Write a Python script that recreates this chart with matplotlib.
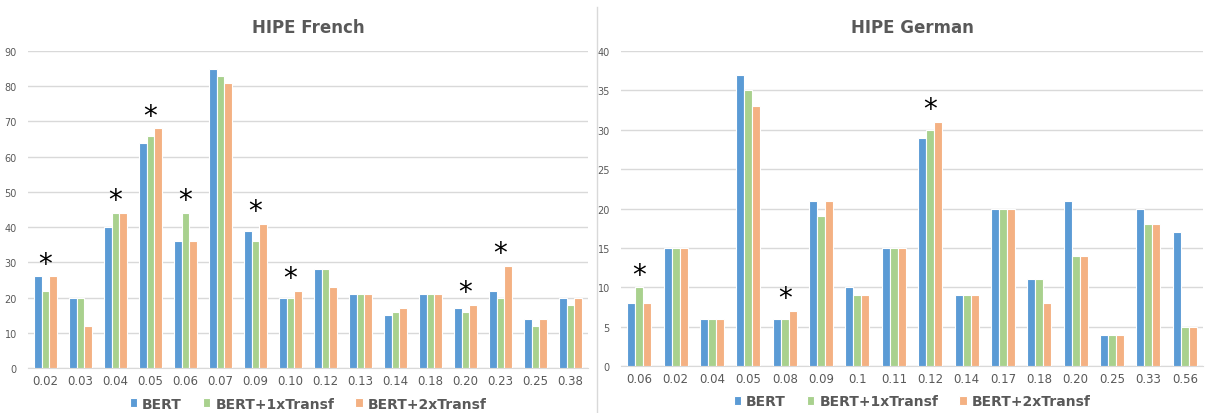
import numpy as np
import matplotlib
matplotlib.use('Agg')
import matplotlib.pyplot as plt

series_names = ['BERT', 'BERT+1xTransf', 'BERT+2xTransf']
colors = ['#5B9BD5', '#A9D18E', '#F4B183']

fr_labels = ['0.02', '0.03', '0.04', '0.05', '0.06', '0.07', '0.09', '0.10',
             '0.12', '0.13', '0.14', '0.18', '0.20', '0.23', '0.25', '0.38']
fr_bert = [26, 20, 40, 64, 36, 85, 39, 20, 28, 21, 15, 21, 17, 22, 14, 20]
fr_1x = [22, 20, 44, 66, 44, 83, 36, 20, 28, 21, 16, 21, 16, 20, 12, 18]
fr_2x = [26, 12, 44, 68, 36, 81, 41, 22, 23, 21, 17, 21, 18, 29, 14, 20]
fr_star = ['0.02', '0.04', '0.05', '0.06', '0.09', '0.10', '0.20', '0.23']

de_labels = ['0.06', '0.02', '0.04', '0.05', '0.08', '0.09', '0.1', '0.11',
             '0.12', '0.14', '0.17', '0.18', '0.20', '0.25', '0.33', '0.56']
de_bert = [8, 15, 6, 37, 6, 21, 10, 15, 29, 9, 20, 11, 21, 4, 20, 17]
de_1x = [10, 15, 6, 35, 6, 19, 9, 15, 30, 9, 20, 11, 14, 4, 18, 5]
de_2x = [8, 15, 6, 33, 7, 21, 9, 15, 31, 9, 20, 8, 14, 4, 18, 5]
de_star = ['0.06', '0.08', '0.12']

text_gray = '#595959'
grid_gray = '#D9D9D9'


def draw_panel(ax, title, labels, series, stars, ymax, ystep):
    x = np.arange(len(labels))
    w = 0.22
    for i, (vals, name, c) in enumerate(zip(series, series_names, colors)):
        ax.bar(x + (i - 1) * w, vals, width=w, color=c, edgecolor='white',
               linewidth=0.8, label=name, zorder=3)
    tops = np.max(np.array(series), axis=0)
    for lab in stars:
        k = labels.index(lab)
        ax.annotate('*', xy=(x[k], tops[k]), xytext=(0, -1),
                    textcoords='offset points', ha='center', va='bottom',
                    fontsize=20, color='black', zorder=4)
    ax.set_xlim(-0.5, len(labels) - 0.5)
    ax.set_ylim(0, ymax)
    ax.set_yticks(np.arange(0, ymax + 1, ystep))
    ax.set_xticks(x)
    ax.set_xticklabels(labels)
    ax.tick_params(axis='y', labelsize=7, colors=text_gray, length=0, pad=8)
    ax.tick_params(axis='x', labelsize=8.5, colors=text_gray, length=0, pad=4)
    ax.grid(axis='y', color=grid_gray, linewidth=1, zorder=0)
    for s in ['top', 'right', 'left']:
        ax.spines[s].set_visible(False)
    ax.spines['bottom'].set_color(grid_gray)
    ax.set_title(title, fontsize=12, fontweight='bold', color=text_gray, pad=14)
    leg = ax.legend(loc='center', bbox_to_anchor=(0.5, -0.112), ncol=3,
                    frameon=False, handlelength=0.55, handleheight=0.55,
                    handletextpad=0.35, columnspacing=1.5,
                    prop={'weight': 'bold', 'size': 10})
    for t in leg.get_texts():
        t.set_color(text_gray)


fig = plt.figure(figsize=(12.12, 4.14), dpi=100)
ax1 = fig.add_axes([0.0231, 0.1087, 0.462, 0.7657])
ax2 = fig.add_axes([0.5124, 0.1135, 0.4802, 0.7609])

draw_panel(ax1, 'HIPE French', fr_labels, [fr_bert, fr_1x, fr_2x], fr_star, 90, 10)
draw_panel(ax2, 'HIPE German', de_labels, [de_bert, de_1x, de_2x], de_star, 40, 5)

# vertical separator between the two charts
fig.add_artist(plt.Line2D([597 / 1212, 597 / 1212], [0, 1 - 8 / 414],
                          color=grid_gray, linewidth=1))

fig.savefig('out.png', dpi=100)
